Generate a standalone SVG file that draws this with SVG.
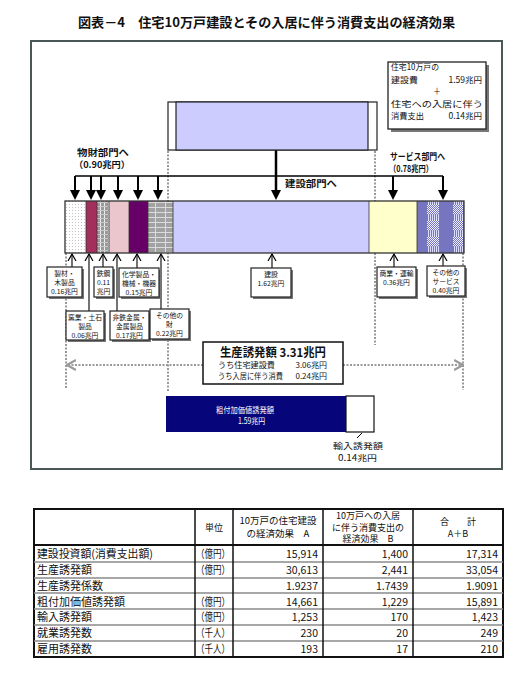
<svg xmlns="http://www.w3.org/2000/svg" width="530" height="679" viewBox="0 0 530 679">
<defs>
<style>
text { font-family: "Noto Sans CJK JP", "Noto Sans", sans-serif; fill:#111; }
.t7 { font-size:6.8px; text-anchor:middle; }
.b { font-weight:bold; }
.lbl { fill:#fff; stroke:#222; stroke-width:1.2; }
.shd { fill:#777; }
.dot { stroke:#9a9a9a; stroke-width:2; stroke-dasharray:2 1.5; fill:none; }
.down { stroke:#000; stroke-width:2; marker-end:url(#tri); }
.up { stroke:#000; stroke-width:1.1; marker-end:url(#chev); }
.row { font-size:11px; }
.unit { font-size:11px; }
.num { font-size:10.5px; text-anchor:end; }
.hd { font-size:9px; text-anchor:middle; }
.info { font-size:8.5px; }
.sep { stroke:#8a8a8a; stroke-width:1.4; }
.vl { stroke:#111; stroke-width:1.5; }
.seg { stroke:#333; stroke-width:0.8; }
</style>
<marker id="tri" viewBox="0 0 10 10" refX="1" refY="5" markerWidth="10" markerHeight="10" markerUnits="userSpaceOnUse" orient="auto"><path d="M0,0 L10,5 L0,10 z" fill="#000"/></marker>
<marker id="chev" viewBox="0 0 8 10" refX="7" refY="5" markerWidth="8" markerHeight="10" markerUnits="userSpaceOnUse" orient="auto"><path d="M0,1 L7,5 L0,9" fill="none" stroke="#000" stroke-width="1.2"/></marker>
<marker id="gchev" viewBox="0 0 10 12" refX="9" refY="6" markerWidth="10" markerHeight="12" markerUnits="userSpaceOnUse" orient="auto"><path d="M0,1 L9,6 L0,11" fill="none" stroke="#9a9a9a" stroke-width="2.2"/></marker>
<pattern id="pWood" width="3" height="3" patternUnits="userSpaceOnUse"><rect width="3" height="3" fill="#fff"/><rect width="1" height="1" fill="#c4c4c4"/></pattern>
<pattern id="pSteel" width="4" height="4" patternUnits="userSpaceOnUse"><rect width="4" height="4" fill="#9a9a9a"/><rect width="1" height="4" fill="#eee"/><rect y="2" width="4" height="1" fill="#c8c8c8"/></pattern>
<pattern id="pOther" width="25" height="5" patternUnits="userSpaceOnUse" x="148"><rect width="25" height="5" fill="#a2a2a2"/><rect y="2" width="25" height="1" fill="#dcdcdc"/><rect x="7" width="1" height="5" fill="#dcdcdc"/><rect x="17" width="1" height="5" fill="#dcdcdc"/></pattern>
<pattern id="pVs" width="2" height="2" patternUnits="userSpaceOnUse"><rect width="2" height="2" fill="#7676c0"/><rect width="1" height="2" fill="#dcdcff"/></pattern>
<pattern id="pChk" width="2" height="2" patternUnits="userSpaceOnUse"><rect width="2" height="2" fill="#7676c0"/><rect width="1" height="1" fill="#f0f0ff"/><rect x="1" y="1" width="1" height="1" fill="#f0f0ff"/></pattern>
</defs>
<rect width="530" height="679" fill="#fff"/>

<g id="title">
<text x="78" y="27" font-size="13" class="b" textLength="377" lengthAdjust="spacingAndGlyphs">図表－4　住宅10万戸建設とその入居に伴う消費支出の経済効果</text>
</g>

<g id="frame">
<rect x="31" y="41" width="471" height="428" fill="none" stroke="#4a5858" stroke-width="2"/>
</g>

<g id="connectors">
<line class="dot" x1="168" y1="151" x2="168" y2="392"/>
<line class="dot" x1="375" y1="151" x2="375" y2="201"/>
<line class="dot" x1="375" y1="253" x2="375" y2="345"/>
<line class="dot" x1="66" y1="253" x2="66" y2="388"/>
<line class="dot" x1="463" y1="253" x2="463" y2="390"/>
<line class="dot" x1="203" y1="365" x2="67" y2="365" marker-end="url(#gchev)"/>
<line class="dot" x1="343" y1="365" x2="463" y2="365" marker-end="url(#gchev)"/>
<line x1="75" y1="176" x2="443" y2="176" stroke="#000" stroke-width="1.5"/>
<line x1="276" y1="150" x2="276" y2="191" stroke="#000" stroke-width="2.5" marker-end="url(#tri)"/>
<line class="down" x1="75" y1="176" x2="75" y2="191"/>
<line class="down" x1="91" y1="176" x2="91" y2="191"/>
<line class="down" x1="101" y1="176" x2="101" y2="191"/>
<line class="down" x1="118" y1="176" x2="118" y2="191"/>
<line class="down" x1="138" y1="176" x2="138" y2="191"/>
<line class="down" x1="158" y1="176" x2="158" y2="191"/>
<line class="down" x1="393" y1="176" x2="393" y2="191"/>
<line class="down" x1="443" y1="176" x2="443" y2="191"/>
<line class="up" x1="72" y1="267" x2="72" y2="254"/>
<line class="up" x1="89" y1="311" x2="89" y2="254"/>
<line class="up" x1="103" y1="267" x2="103" y2="254"/>
<line class="up" x1="117" y1="311" x2="117" y2="254"/>
<line class="up" x1="137" y1="268" x2="137" y2="254"/>
<line class="up" x1="161" y1="309" x2="161" y2="254"/>
<line class="up" x1="272" y1="268" x2="272" y2="254"/>
<line class="up" x1="394" y1="267" x2="394" y2="254"/>
<line class="up" x1="443" y1="266" x2="443" y2="254"/>
<line x1="362" y1="433" x2="357" y2="438" stroke="#000" stroke-width="1"/>
</g>

<g id="flow-labels">
<text x="77" y="156" font-size="9" class="b" textLength="52" lengthAdjust="spacingAndGlyphs">物財部門へ</text>
<text x="74" y="168" font-size="9" class="b" textLength="56" lengthAdjust="spacingAndGlyphs">（0.90兆円）</text>
<text x="285" y="187" font-size="9" class="b" textLength="52" lengthAdjust="spacingAndGlyphs">建設部門へ</text>
<text x="390" y="160" font-size="9" class="b" textLength="55" lengthAdjust="spacingAndGlyphs">サービス部門へ</text>
<text x="389" y="172" font-size="9" class="b" textLength="44" lengthAdjust="spacingAndGlyphs">（0.78兆円）</text>
</g>

<g id="n-investment">
<rect x="168" y="102" width="209" height="48" fill="#fff" stroke="#222" stroke-width="1.2"/>
<rect x="176" y="102" width="192" height="48" fill="#ccccff" stroke="#222" stroke-width="1.2"/>
</g>

<g id="n-info">
<rect x="391" y="65" width="98" height="67" class="shd"/>
<rect x="388" y="62" width="98" height="67" fill="#fff" stroke="#222" stroke-width="1.3"/>
<text x="391" y="70" class="info" textLength="48" lengthAdjust="spacingAndGlyphs">住宅10万戸の</text>
<text x="391" y="82.5" class="info" textLength="27" lengthAdjust="spacingAndGlyphs">建設費</text>
<text x="482" y="82.5" class="info" text-anchor="end">1.59兆円</text>
<text x="437" y="94" font-size="7.5" text-anchor="middle">＋</text>
<text x="391" y="106.5" class="info" textLength="92" lengthAdjust="spacingAndGlyphs">住宅への入居に伴う</text>
<text x="391" y="119" class="info" textLength="33" lengthAdjust="spacingAndGlyphs">消費支出</text>
<text x="482" y="119" class="info" text-anchor="end">0.14兆円</text>
</g>

<g id="n-bar">
<rect x="65" y="201" width="21" height="52" fill="url(#pWood)"/>
<rect x="86" y="201" width="11" height="52" fill="#a3305c"/>
<rect x="97" y="201" width="12" height="52" fill="url(#pSteel)"/>
<rect x="109" y="201" width="20" height="52" fill="#ebc7cd"/>
<rect x="129" y="201" width="19" height="52" fill="#660066"/>
<rect x="148" y="201" width="25" height="52" fill="url(#pOther)"/>
<rect x="173" y="201" width="196" height="52" fill="#ccccff"/>
<rect x="369" y="201" width="48" height="52" fill="#ffffcc"/>
<rect x="417" y="201" width="47" height="52" fill="#7676c0"/>
<rect x="427" y="201" width="12" height="52" fill="url(#pVs)"/>
<rect x="453" y="201" width="10" height="52" fill="url(#pVs)"/>
<rect x="427" y="204" width="12" height="10" fill="url(#pChk)"/>
<rect x="427" y="220" width="12" height="10" fill="url(#pChk)"/>
<rect x="427" y="236" width="12" height="10" fill="url(#pChk)"/>
<rect x="453" y="204" width="10" height="10" fill="url(#pChk)"/>
<rect x="453" y="220" width="10" height="10" fill="url(#pChk)"/>
<rect x="453" y="236" width="10" height="10" fill="url(#pChk)"/>
<line class="seg" x1="86" y1="201" x2="86" y2="253"/>
<line class="seg" x1="97" y1="201" x2="97" y2="253"/>
<line class="seg" x1="109" y1="201" x2="109" y2="253"/>
<line class="seg" x1="129" y1="201" x2="129" y2="253"/>
<line class="seg" x1="148" y1="201" x2="148" y2="253"/>
<line class="seg" x1="173" y1="201" x2="173" y2="253"/>
<line class="seg" x1="369" y1="201" x2="369" y2="253"/>
<line class="seg" x1="417" y1="201" x2="417" y2="253"/>
<rect x="65" y="201" width="399" height="52" fill="none" stroke="#333" stroke-width="1.3"/>
</g>

<g id="n-wood">
<rect x="49" y="269" width="35" height="30" class="shd"/>
<rect x="47" y="267" width="35" height="30" class="lbl"/>
<text x="64.5" y="275.5" class="t7">製材・</text>
<text x="64.5" y="284.5" class="t7">木製品</text>
<text x="64.5" y="293.5" class="t7">0.16兆円</text>
</g>
<g id="n-ceramic">
<rect x="68" y="313" width="38" height="29" class="shd"/>
<rect x="66" y="311" width="38" height="29" class="lbl"/>
<text x="85" y="319.5" class="t7">窯業・土石</text>
<text x="85" y="328.5" class="t7">製品</text>
<text x="85" y="337.5" class="t7">0.06兆円</text>
</g>
<g id="n-steel">
<rect x="96" y="269" width="19" height="30" class="shd"/>
<rect x="94" y="267" width="19" height="30" class="lbl"/>
<text x="103.5" y="275.5" class="t7">鉄鋼</text>
<text x="103.5" y="284.5" class="t7">0.11</text>
<text x="103.5" y="293.5" class="t7">兆円</text>
</g>
<g id="n-nonferrous">
<rect x="112" y="313" width="39" height="29" class="shd"/>
<rect x="110" y="311" width="39" height="29" class="lbl"/>
<text x="129.5" y="319.5" class="t7">非鉄金属・</text>
<text x="129.5" y="328.5" class="t7">金属製品</text>
<text x="129.5" y="337.5" class="t7">0.17兆円</text>
</g>
<g id="n-chemical">
<rect x="121" y="270" width="40" height="29" class="shd"/>
<rect x="119" y="268" width="40" height="29" class="lbl"/>
<text x="139" y="276.5" class="t7">化学製品・</text>
<text x="139" y="285.5" class="t7">機械・機器</text>
<text x="139" y="294.5" class="t7">0.15兆円</text>
</g>
<g id="n-othergoods">
<rect x="152" y="311" width="39" height="30" class="shd"/>
<rect x="150" y="309" width="39" height="30" class="lbl"/>
<text x="169.5" y="317.5" class="t7">その他の</text>
<text x="169.5" y="326.5" class="t7">財</text>
<text x="169.5" y="335.5" class="t7">0.22兆円</text>
</g>
<g id="n-construction">
<rect x="253" y="270" width="40" height="29" class="shd"/>
<rect x="251" y="268" width="40" height="29" class="lbl"/>
<text x="271" y="277" class="t7">建設</text>
<text x="271" y="286" class="t7">1.62兆円</text>
</g>
<g id="n-commerce">
<rect x="379" y="269" width="39" height="30" class="shd"/>
<rect x="377" y="267" width="39" height="30" class="lbl"/>
<text x="396.5" y="276" class="t7">商業・運輸</text>
<text x="396.5" y="285" class="t7">0.36兆円</text>
</g>
<g id="n-services">
<rect x="429" y="268" width="38" height="30" class="shd"/>
<rect x="427" y="266" width="38" height="30" class="lbl"/>
<text x="446" y="274.5" class="t7">その他の</text>
<text x="446" y="283.5" class="t7">サービス</text>
<text x="446" y="292.5" class="t7">0.40兆円</text>
</g>

<g id="n-production">
<rect x="203" y="342" width="140" height="42" fill="#fff" stroke="#111" stroke-width="1.5"/>
<text x="220" y="357" font-size="12" class="b" textLength="106" lengthAdjust="spacingAndGlyphs">生産誘発額 3.31兆円</text>
<text x="218" y="368" font-size="8" textLength="57" lengthAdjust="spacingAndGlyphs">うち住宅建設費</text>
<text x="327" y="368" font-size="8" text-anchor="end">3.06兆円</text>
<text x="218" y="378.5" font-size="8" textLength="65" lengthAdjust="spacingAndGlyphs">うち入居に伴う消費</text>
<text x="327" y="378.5" font-size="8" text-anchor="end">0.24兆円</text>
</g>

<g id="n-valueadded">
<rect x="166" y="396" width="180" height="36" fill="#06067a"/>
<text x="216" y="413" font-size="8.5" style="fill:#fff" textLength="58" lengthAdjust="spacingAndGlyphs">粗付加価値誘発額</text>
<text x="238" y="424" font-size="8.5" style="fill:#fff" textLength="27" lengthAdjust="spacingAndGlyphs">1.59兆円</text>
</g>
<g id="n-imports">
<rect x="346" y="396" width="28" height="36" fill="#fff" stroke="#111" stroke-width="1.2"/>
<text x="333" y="449" font-size="8.5" textLength="50" lengthAdjust="spacingAndGlyphs">輸入誘発額</text>
<text x="338" y="461" font-size="8.5" textLength="39" lengthAdjust="spacingAndGlyphs">0.14兆円</text>
</g>

<g id="table">
<rect x="34" y="509" width="469" height="148" fill="#fff" stroke="#111" stroke-width="2"/>
<line class="sep" x1="34" y1="562" x2="503" y2="562"/>
<line class="sep" x1="34" y1="578" x2="503" y2="578"/>
<line class="sep" x1="34" y1="593" x2="503" y2="593"/>
<line class="sep" x1="34" y1="609" x2="503" y2="609"/>
<line class="sep" x1="34" y1="625" x2="503" y2="625"/>
<line class="sep" x1="34" y1="641" x2="503" y2="641"/>
<line x1="34" y1="545" x2="503" y2="545" stroke="#111" stroke-width="2"/>
<line class="vl" x1="195" y1="509" x2="195" y2="657"/>
<line class="vl" x1="233" y1="509" x2="233" y2="657"/>
<line class="vl" x1="323" y1="509" x2="323" y2="657"/>
<line class="vl" x1="413" y1="509" x2="413" y2="657"/>

<text x="214" y="531" class="hd">単位</text>
<text x="278" y="524" font-size="9.5" text-anchor="middle">10万戸の住宅建設</text>
<text x="278" y="537" font-size="9.5" text-anchor="middle">の経済効果　A</text>
<text x="368" y="519" class="hd">10万戸への入居</text>
<text x="368" y="530.5" class="hd">に伴う消費支出の</text>
<text x="368" y="542" class="hd">経済効果　B</text>
<text x="458" y="524.5" class="hd">合　　計</text>
<text x="458" y="537" class="hd">A＋B</text>

<text x="37" y="557.5" class="row" textLength="116" lengthAdjust="spacingAndGlyphs">建設投資額(消費支出額)</text>
<text x="37" y="574" class="row">生産誘発額</text>
<text x="37" y="589.5" class="row">生産誘発係数</text>
<text x="37" y="605.5" class="row">粗付加価値誘発額</text>
<text x="37" y="621" class="row">輸入誘発額</text>
<text x="37" y="637" class="row">就業誘発数</text>
<text x="37" y="653" class="row">雇用誘発数</text>

<text x="196" y="557.5" class="unit" textLength="34" lengthAdjust="spacingAndGlyphs">（億円）</text>
<text x="196" y="574" class="unit" textLength="34" lengthAdjust="spacingAndGlyphs">（億円）</text>
<text x="196" y="605.5" class="unit" textLength="34" lengthAdjust="spacingAndGlyphs">（億円）</text>
<text x="196" y="621" class="unit" textLength="34" lengthAdjust="spacingAndGlyphs">（億円）</text>
<text x="196" y="637" class="unit" textLength="34" lengthAdjust="spacingAndGlyphs">（千人）</text>
<text x="196" y="653" class="unit" textLength="34" lengthAdjust="spacingAndGlyphs">（千人）</text>

<text x="318" y="557.5" class="num">15,914</text>
<text x="408" y="557.5" class="num">1,400</text>
<text x="498" y="557.5" class="num">17,314</text>
<text x="318" y="574" class="num">30,613</text>
<text x="408" y="574" class="num">2,441</text>
<text x="498" y="574" class="num">33,054</text>
<text x="318" y="589.5" class="num">1.9237</text>
<text x="408" y="589.5" class="num">1.7439</text>
<text x="498" y="589.5" class="num">1.9091</text>
<text x="318" y="605.5" class="num">14,661</text>
<text x="408" y="605.5" class="num">1,229</text>
<text x="498" y="605.5" class="num">15,891</text>
<text x="318" y="621" class="num">1,253</text>
<text x="408" y="621" class="num">170</text>
<text x="498" y="621" class="num">1,423</text>
<text x="318" y="637" class="num">230</text>
<text x="408" y="637" class="num">20</text>
<text x="498" y="637" class="num">249</text>
<text x="318" y="653" class="num">193</text>
<text x="408" y="653" class="num">17</text>
<text x="498" y="653" class="num">210</text>
</g>
</svg>
